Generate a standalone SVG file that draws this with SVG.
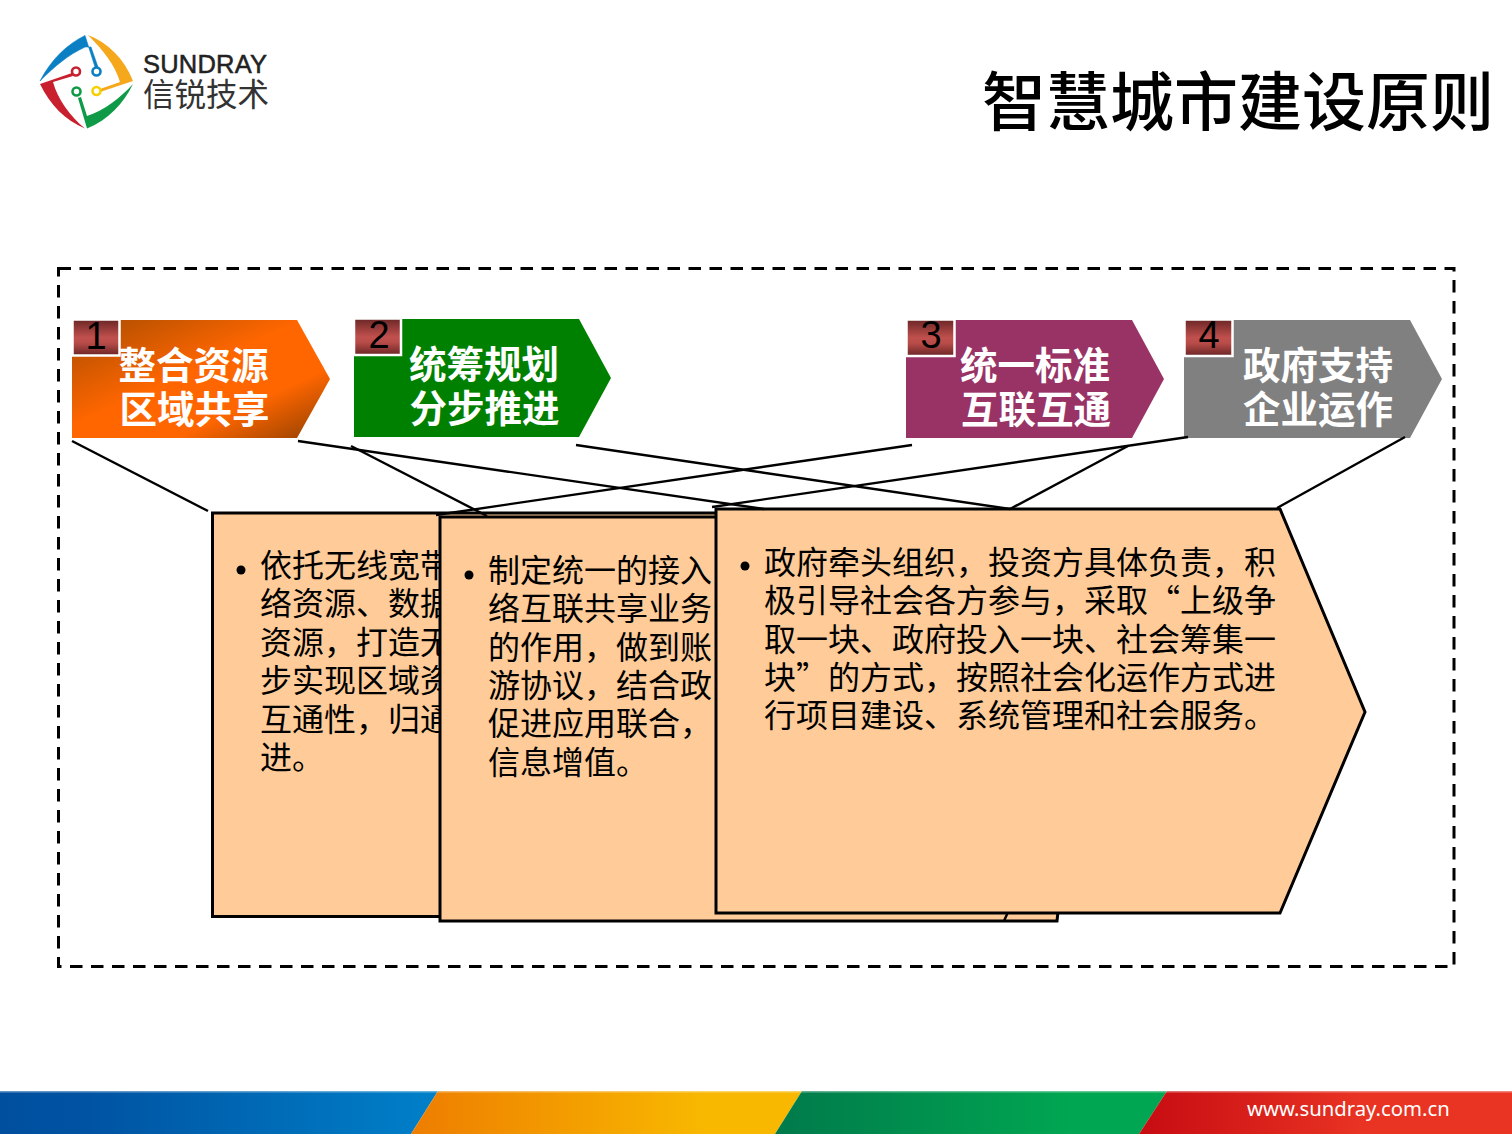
<svg xmlns="http://www.w3.org/2000/svg" width="1512" height="1134" viewBox="0 0 1512 1134">
<style>
text{font-family:"Noto Sans CJK SC","Noto Sans",sans-serif}
.frame{fill:none;stroke:#000;stroke-width:3;stroke-dasharray:12.5 8.5}
.conn{stroke:#000;stroke-width:2.4;fill:none}
.box{fill:#ffcc99;stroke:#000;stroke-width:3}
.body{font-size:32px;fill:#000}
.dot{fill:#000}
.lab{font-size:37.5px;font-weight:700;fill:#fff;text-anchor:middle}
.badge{fill:url(#bad);stroke:#fff;stroke-width:2.5}
.num{font-family:"Liberation Sans Narrow","Liberation Sans",sans-serif;font-size:38px;fill:#000;text-anchor:middle}
.ring{fill:#fff;stroke-width:2.6}
</style>
<defs>
<linearGradient id="bad" x1="0" y1="0" x2="0" y2="1"><stop offset="0" stop-color="#6a2626"/><stop offset=".5" stop-color="#c0504d"/><stop offset=".65" stop-color="#b84c49"/><stop offset="1" stop-color="#692525"/></linearGradient>
<linearGradient id="org" x1="0" y1="0" x2="1" y2="1"><stop offset="0" stop-color="#a84c00"/><stop offset=".45" stop-color="#ff6600"/><stop offset=".7" stop-color="#ff6600"/><stop offset="1" stop-color="#8f3f00"/></linearGradient>
<linearGradient id="b1"><stop offset="0" stop-color="#004f9f"/><stop offset=".2" stop-color="#0053a2"/><stop offset="1" stop-color="#0080c9"/></linearGradient>
<linearGradient id="b2"><stop offset="0" stop-color="#ee7d00"/><stop offset=".75" stop-color="#f8b800"/><stop offset="1" stop-color="#f8b800"/></linearGradient>
<linearGradient id="b3"><stop offset="0" stop-color="#007a4b"/><stop offset=".75" stop-color="#00a651"/><stop offset="1" stop-color="#00a651"/></linearGradient>
<linearGradient id="b4"><stop offset="0" stop-color="#c70c12"/><stop offset=".6" stop-color="#e93323"/><stop offset="1" stop-color="#e93323"/></linearGradient>
</defs>
<rect width="1512" height="1134" fill="#fff"/>
<g id="logo">
<path d="M40 81C52 58 68 44 85 35.500L95 67L98 67L91 47L85 47C68 55 55 66 40 81Z" fill="#0a7fc4" stroke="#0a7fc4" stroke-width=".6"/>
<path d="M88 35C108 43 124 58 133 81L100 92L100 89L120 82C115 65 103 50 88 35Z" fill="#f5a81c"/>
<path d="M133 84C124 103 108 120 87 128.500L78 98L81 97L87 116C105 110 120 98 133 84Z" fill="#0f9a48"/>
<path d="M85 128.500C65 120 50 105 40 84L72 73L73 76L53 82C58 100 70 116 85 128.500Z" fill="#c8202f"/>
<circle class="ring" cx="96.500" cy="71.500" r="4" stroke="#0a7fc4"/>
<circle class="ring" cx="96.500" cy="91" r="4" stroke="#f5d000"/>
<circle class="ring" cx="76.500" cy="91.500" r="4" stroke="#0f9a48"/>
<circle class="ring" cx="76" cy="71.500" r="4" stroke="#c8202f"/>
<text x="143" y="73" style="font-family:'Liberation Sans',sans-serif" font-size="25.500" fill="#222" stroke="#222" stroke-width=".5" textLength="124">SUNDRAY</text>
<text x="143" y="106" font-size="31.500" fill="#333">信锐技术</text>
</g>
<text id="title" x="982" y="125" font-size="64" font-weight="500" fill="#000">智慧城市建设原则</text>
<rect id="frame" class="frame" x="58.500" y="268.500" width="1395.500" height="698"/>
<g id="head-1"><path d="M72 320H297L330 379L297 438H72Z" fill="url(#org)"/><rect class="badge" x="72.500" y="319.500" width="47" height="36"/><text class="num" x="96" y="349">1</text><text class="lab" x="193.500" y="379">整合资源</text><text class="lab" x="194.500" y="423">区域共享</text></g>
<g id="head-2"><path d="M354 319H579L611 378L579 437H354Z" fill="#008000"/><rect class="badge" x="354" y="318.500" width="47" height="36.500"/><text class="num" x="379" y="348">2</text><text class="lab" x="484" y="378">统筹规划</text><text class="lab" x="484.500" y="422">分步推进</text></g>
<g id="head-3"><path d="M906 320H1132L1164 379L1132 438H906Z" fill="#993366"/><rect class="badge" x="906.500" y="319.500" width="48" height="36.500"/><text class="num" x="931" y="348">3</text><text class="lab" x="1035" y="379">统一标准</text><text class="lab" x="1036" y="423">互联互通</text></g>
<g id="head-4"><path d="M1184 320H1410L1442 379L1410 438H1184Z" fill="#808080"/><rect class="badge" x="1184.500" y="319.500" width="48" height="36.500"/><text class="num" x="1209" y="348">4</text><text class="lab" x="1318" y="379">政府支持</text><text class="lab" x="1318" y="423">企业运作</text></g>
<g id="box-1"><rect class="box" x="212.500" y="513" width="800" height="403.500"/><circle class="dot" cx="241" cy="570" r="4.500"/>
<text class="body" x="260" y="577">依托无线宽带</text><text class="body" x="260" y="615">络资源、数据</text><text class="body" x="260" y="654">资源，打造无</text><text class="body" x="260" y="692">步实现区域资</text><text class="body" x="260" y="731">互通性，归通</text><text class="body" x="260" y="769">进。</text></g>
<g id="box-2"><path class="box" d="M440 517H1100L1057 921H440Z"/><path class="conn" d="M1004 921L1008 912"/><circle class="dot" cx="469" cy="575" r="4.500"/>
<text class="body" x="488" y="582">制定统一的接入</text><text class="body" x="488" y="620">络互联共享业务</text><text class="body" x="488" y="659">的作用，做到账</text><text class="body" x="488" y="697">游协议，结合政</text><text class="body" x="488" y="735">促进应用联合，</text><text class="body" x="488" y="774">信息增值。</text></g>
<g id="box-3"><path class="box" d="M716 509H1280L1365 712L1280 913H716Z"/><circle class="dot" cx="745" cy="566" r="4.500"/>
<text class="body" x="764" y="574">政府牵头组织，投资方具体负责，积</text><text class="body" x="764" y="612">极引导社会各方参与，采取“上级争</text><text class="body" x="764" y="651">取一块、政府投入一块、社会筹集一</text><text class="body" x="764" y="689">块”的方式，按照社会化运作方式进</text><text class="body" x="764" y="727">行项目建设、系统管理和社会服务。</text></g>
<g id="connectors">
<line class="conn" x1="72" y1="441" x2="208" y2="511"/>
<line class="conn" x1="298" y1="441" x2="764" y2="509"/>
<line class="conn" x1="351" y1="446" x2="487" y2="516"/>
<line class="conn" x1="576" y1="445" x2="1010" y2="509"/>
<line class="conn" x1="912" y1="445" x2="436" y2="515"/>
<line class="conn" x1="1188" y1="437" x2="712" y2="507"/>
<line class="conn" x1="1128" y1="446" x2="1010" y2="509"/>
<line class="conn" x1="1405" y1="437" x2="1277" y2="508"/>
</g>
<g id="footer">
<path d="M0 1091H438L411 1134H0Z" fill="url(#b1)"/>
<path d="M438 1091H802L775 1134H411Z" fill="url(#b2)"/>
<path d="M802 1091H1167L1139 1134H775Z" fill="url(#b3)"/>
<path d="M1167 1091H1512V1134H1139Z" fill="url(#b4)"/>
<rect y="1091" width="1512" height="1.500" fill="#fff" opacity=".4"/>
<text x="1247" y="1116" font-size="20.300" fill="#fff" style="font-family:'Noto Sans',sans-serif">www.sundray.com.cn</text>
</g>
</svg>
